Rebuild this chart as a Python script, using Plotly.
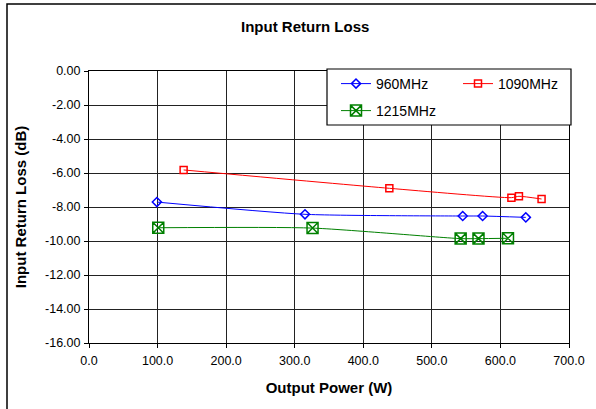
import plotly.graph_objects as go

# ---- data ----
x_960 = [99, 315, 545, 574, 637]
y_960 = [-7.71, -8.43, -8.53, -8.53, -8.61]

x_1090 = [138, 438, 616, 627, 660]
y_1090 = [-5.82, -6.90, -7.45, -7.37, -7.53]

x_1215 = [101, 326, 542, 568, 611]
y_1215 = [-9.22, -9.24, -9.86, -9.86, -9.84]

x_ticks = [0, 100, 200, 300, 400, 500, 600, 700]
x_ticktext = ["0.0", "100.0", "200.0", "300.0", "400.0", "500.0", "600.0", "700.0"]
y_ticks = [0, -2, -4, -6, -8, -10, -12, -14, -16]
y_ticktext = ["0.00", "-2.00", "-4.00", "-6.00", "-8.00", "-10.00", "-12.00", "-14.00", "-16.00"]

FONT = "Liberation Sans, Arial, sans-serif"

# plot-area geometry in pixels (for converting legend box positions)
L, R, T, B = 89, 569, 71, 343
PW, PH = R - L, B - T


def px_x(p):
    return (p - L) / PW


def px_y(p):
    return (B - p) / PH


fig = go.Figure()
fig.add_trace(go.Scatter(
    x=x_960, y=y_960, name="960MHz", mode="lines+markers", legend="legend",
    line=dict(color="#0000ff", width=1, shape="spline", smoothing=0.6),
    marker=dict(symbol="diamond-open", size=7, color="#0000ff", line=dict(width=1.5, color="#0000ff")),
))
fig.add_trace(go.Scatter(
    x=x_1090, y=y_1090, name="1090MHz", mode="lines+markers", legend="legend",
    line=dict(color="#ff0000", width=1, shape="spline", smoothing=0.6),
    marker=dict(symbol="square-open", size=7, color="#ff0000", line=dict(width=1.5, color="#ff0000")),
))
fig.add_trace(go.Scatter(
    x=x_1215, y=y_1215, name="1215MHz", mode="lines+markers", legend="legend2",
    line=dict(color="#008000", width=1, shape="spline", smoothing=0.6),
    marker=dict(symbol="square-x-open", size=11, color="#008000",
                line=dict(width=1.5, color=["#008000", "#008000", "#008000", "#008000", "#ff0000"])),
))

axis_common = dict(
    showline=True, linecolor="#000000", linewidth=1, mirror=True,
    showgrid=True, gridcolor="#222222", gridwidth=1,
    ticks="outside", ticklen=4, tickcolor="#000000",
    zeroline=False, automargin=False,
    tickfont=dict(family=FONT, size=12.5, color="#000000"),
)

fig.update_xaxes(
    range=[0, 700], tickvals=x_ticks, ticktext=x_ticktext, ticklabelstandoff=2,
    title=dict(text="<b>Output Power (W)</b>", font=dict(family=FONT, size=15, color="#000000"), standoff=15),
    **axis_common,
)
fig.update_yaxes(
    range=[-16, 0], tickvals=y_ticks, ticktext=y_ticktext, ticklabelstandoff=1,
    title=dict(text="<b>Input Return Loss (dB)</b>", font=dict(family=FONT, size=15, color="#000000"), standoff=14),
    **axis_common,
)

legend_common = dict(
    orientation="h", xanchor="left", yanchor="top",
    bgcolor="rgba(0,0,0,0)", borderwidth=0,
    font=dict(family=FONT, size=14, color="#000000"),
    entrywidth=77, entrywidthmode="pixels", itemwidth=30,
)

fig.update_layout(
    width=596, height=409,
    margin=dict(l=L, r=596 - R, t=T, b=409 - B, autoexpand=False),
    paper_bgcolor="#ffffff", plot_bgcolor="#ffffff",
    title=dict(text="<b>Input Return Loss</b>", x=0.512, xanchor="center", y=1 - 27 / 409, yanchor="middle",
               font=dict(family=FONT, size=15, color="#000000")),
    showlegend=True,
    legend=dict(x=px_x(336), y=px_y(68), **legend_common),
    legend2=dict(x=px_x(336), y=px_y(95), **legend_common),
    shapes=[
        dict(type="rect", xref="paper", yref="paper",
             x0=px_x(7), x1=1.2, y0=-0.5, y1=px_y(4),
             line=dict(color="#000000", width=1.5), layer="below"),
        dict(type="rect", xref="paper", yref="paper",
             x0=px_x(327), x1=px_x(571), y0=px_y(125), y1=px_y(69),
             fillcolor="#ffffff", line=dict(color="#000000", width=1.2), layer="above"),
    ],
)

fig.write_html("out.html", config={"displayModeBar": False},
               post_script="document.body.style.margin='0';")
